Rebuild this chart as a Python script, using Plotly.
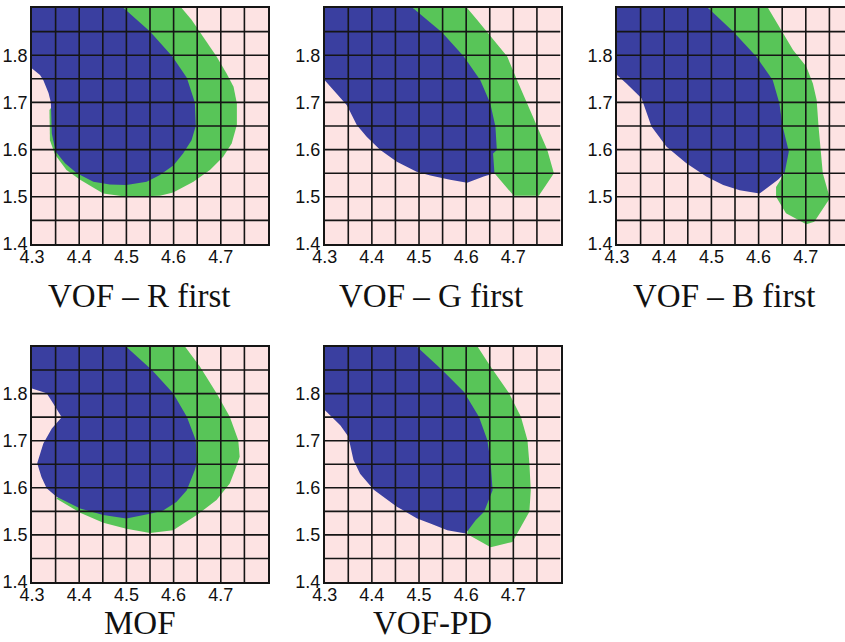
import numpy as np
import plotly.graph_objects as go

# ---------------- data ----------------
X_TICKS = [4.3, 4.4, 4.5, 4.6, 4.7]
Y_TICKS = [1.4, 1.5, 1.6, 1.7, 1.8]
X_GRID = [4.35, 4.4, 4.45, 4.5, 4.55, 4.6, 4.65, 4.7, 4.75]
Y_GRID = [1.45, 1.5, 1.55, 1.6, 1.65, 1.7, 1.75, 1.8, 1.85]

TITLES = ["VOF – R first", "VOF – G first", "VOF – B first", "MOF", "VOF-PD"]

# VOF - R first
R_BLUE_X = [4.3, 4.494, 4.55, 4.597, 4.628, 4.645, 4.647, 4.638, 4.62, 4.60, 4.571, 4.543, 4.50,
            4.465, 4.43, 4.395, 4.37, 4.35, 4.342, 4.34, 4.335, 4.324, 4.317, 4.3]
R_BLUE_Y = [1.9, 1.9, 1.85, 1.798, 1.752, 1.70, 1.65, 1.62, 1.592, 1.567, 1.546, 1.532, 1.525,
            1.526, 1.532, 1.55, 1.571, 1.596, 1.634, 1.70, 1.72, 1.747, 1.758, 1.772]
R_GREEN_X = [4.494, 4.617, 4.638, 4.663, 4.691, 4.712, 4.727, 4.734, 4.734, 4.723, 4.705, 4.677,
             4.642, 4.599, 4.571, 4.50, 4.451, 4.402, 4.373, 4.349, 4.338, 4.337]
R_GREEN_Y = [1.9, 1.9, 1.875, 1.839, 1.797, 1.762, 1.733, 1.698, 1.652, 1.613, 1.585, 1.557,
             1.532, 1.509, 1.502, 1.50, 1.507, 1.536, 1.557, 1.589, 1.62, 1.684]

# VOF - G first
G_BLUE_X = [4.3, 4.487, 4.549, 4.595, 4.63, 4.651, 4.662, 4.665, 4.657, 4.66, 4.637, 4.602, 4.566,
            4.524, 4.495, 4.453, 4.418, 4.389, 4.368, 4.347, 4.325, 4.3]
G_BLUE_Y = [1.9, 1.9, 1.848, 1.797, 1.747, 1.698, 1.649, 1.599, 1.592, 1.55, 1.543, 1.530, 1.536,
            1.545, 1.553, 1.574, 1.599, 1.627, 1.652, 1.694, 1.719, 1.747]
G_GREEN_X = [4.487, 4.602, 4.623, 4.658, 4.687, 4.708, 4.729, 4.75, 4.772, 4.786, 4.754, 4.701,
             4.66, 4.60]
G_GREEN_Y = [1.9, 1.9, 1.875, 1.832, 1.797, 1.747, 1.698, 1.649, 1.599, 1.55, 1.502, 1.502,
             1.55, 1.65]

# VOF - B first
B_BLUE_X = [4.3, 4.493, 4.546, 4.595, 4.63, 4.644, 4.651, 4.664, 4.655, 4.641, 4.602, 4.56, 4.525,
            4.489, 4.447, 4.405, 4.373, 4.352, 4.32, 4.3]
B_BLUE_Y = [1.9, 1.9, 1.85, 1.797, 1.747, 1.698, 1.649, 1.596, 1.55, 1.536, 1.507, 1.514, 1.525,
            1.543, 1.571, 1.606, 1.649, 1.709, 1.74, 1.758]
B_GREEN_X = [4.493, 4.62, 4.644, 4.673, 4.701, 4.715, 4.723, 4.727, 4.736, 4.751, 4.718, 4.701,
             4.658, 4.637, 4.637, 4.655, 4.60]
B_GREEN_Y = [1.9, 1.9, 1.86, 1.811, 1.776, 1.74, 1.705, 1.649, 1.55, 1.497, 1.447, 1.442,
             1.465, 1.5, 1.521, 1.55, 1.65]

# MOF
M_BLUE_X = [4.3, 4.499, 4.554, 4.599, 4.628, 4.647, 4.649, 4.645, 4.628, 4.606, 4.578, 4.55, 4.5,
            4.451, 4.402, 4.352, 4.331, 4.32, 4.311, 4.324, 4.342, 4.363, 4.345, 4.331, 4.3]
M_BLUE_Y = [1.9, 1.9, 1.85, 1.801, 1.751, 1.701, 1.652, 1.638, 1.595, 1.57, 1.552, 1.545, 1.535,
            1.542, 1.556, 1.581, 1.599, 1.623, 1.652, 1.694, 1.726, 1.75, 1.779, 1.801, 1.811]
M_GREEN_X = [4.499, 4.624, 4.656, 4.691, 4.719, 4.737, 4.74, 4.733, 4.719, 4.691, 4.649, 4.599,
             4.55, 4.5, 4.451, 4.402, 4.352, 4.45]
M_GREEN_Y = [1.9, 1.9, 1.857, 1.801, 1.751, 1.701, 1.666, 1.645, 1.609, 1.574, 1.542, 1.51,
             1.504, 1.513, 1.526, 1.547, 1.577, 1.7]

# VOF-PD
P_BLUE_X = [4.3, 4.495, 4.549, 4.595, 4.627, 4.645, 4.652, 4.656, 4.638, 4.62, 4.599, 4.56, 4.524,
            4.496, 4.453, 4.404, 4.375, 4.361, 4.35, 4.333, 4.3]
P_BLUE_Y = [1.9, 1.9, 1.85, 1.804, 1.751, 1.701, 1.652, 1.595, 1.549, 1.531, 1.503, 1.51, 1.524,
            1.535, 1.56, 1.596, 1.63, 1.659, 1.709, 1.733, 1.765]
P_GREEN_X = [4.495, 4.624, 4.652, 4.691, 4.716, 4.73, 4.734, 4.737, 4.734, 4.709, 4.698, 4.652,
             4.602, 4.62]
P_GREEN_Y = [1.9, 1.9, 1.857, 1.801, 1.751, 1.701, 1.652, 1.595, 1.549, 1.506, 1.485, 1.474,
             1.502, 1.6]

BLUE_X = [R_BLUE_X, G_BLUE_X, B_BLUE_X, M_BLUE_X, P_BLUE_X]
BLUE_Y = [R_BLUE_Y, G_BLUE_Y, B_BLUE_Y, M_BLUE_Y, P_BLUE_Y]
GREEN_X = [R_GREEN_X, G_GREEN_X, B_GREEN_X, M_GREEN_X, P_GREEN_X]
GREEN_Y = [R_GREEN_Y, G_GREEN_Y, B_GREEN_Y, M_GREEN_Y, P_GREEN_Y]

# ---------------- styling / layout ----------------
W, H = 845, 642
PINK = "#FDE3E3"
BLUE = "#3A3FA0"
GREEN = "#58C558"
GRIDC = "#151515"

# pixel boxes [x0, x1, ytop, ybottom]
BOXES = [
    (32, 268, 8, 244),
    (324.7, 560.5, 8, 244),
    (617, 845, 8, 244),
    (32, 268, 346.5, 582),
    (324.7, 560.5, 346.5, 582),
]
XMAX = [4.8, 4.8, 4.3 + 0.5 * (845 - 617) / 236, 4.8, 4.8]
TITLE_POS = [(138.5, 296), (431, 296), (724, 296), (139.5, 623), (432, 623)]

fig = go.Figure()
layout = dict(
    width=W, height=H,
    margin=dict(l=0, r=0, t=0, b=0, autoexpand=False),
    paper_bgcolor="white",
    plot_bgcolor=PINK,
    showlegend=False,
    annotations=[],
)

for i in range(5):
    n = "" if i == 0 else str(i + 1)
    xa, ya = "x" + n, "y" + n
    x0, x1, yt, yb = BOXES[i]
    # green then blue
    fig.add_trace(go.Scatter(x=GREEN_X[i], y=GREEN_Y[i], xaxis=xa, yaxis=ya, mode="lines",
                             fill="toself", fillcolor=GREEN, line=dict(width=0, color=GREEN),
                             hoverinfo="skip"))
    fig.add_trace(go.Scatter(x=BLUE_X[i], y=BLUE_Y[i], xaxis=xa, yaxis=ya, mode="lines",
                             fill="toself", fillcolor=BLUE, line=dict(width=0, color=BLUE),
                             hoverinfo="skip"))
    # grid lines drawn above the regions
    gx, gy = [], []
    for v in X_GRID:
        gx += [v, v, None]
        gy += [1.4, 1.9, None]
    for v in Y_GRID:
        gx += [4.3, 4.8, None]
        gy += [v, v, None]
    fig.add_trace(go.Scatter(x=gx, y=gy, xaxis=xa, yaxis=ya, mode="lines",
                             line=dict(width=1.6, color=GRIDC), hoverinfo="skip"))

    tickfont = dict(family="Liberation Sans, Arial, sans-serif", size=18, color="#111")
    layout["xaxis" + n] = dict(
        domain=[x0 / W, x1 / W], range=[4.3, XMAX[i]], anchor=ya, automargin=False,
        tickvals=X_TICKS, ticktext=[f"{v:.1f}" for v in X_TICKS], ticks="",
        showgrid=False, zeroline=False, showline=True, mirror=True,
        linecolor=GRIDC, linewidth=1.6, tickfont=tickfont, ticklabelstandoff=-4,
    )
    layout["yaxis" + n] = dict(
        domain=[1 - yb / H, 1 - yt / H], range=[1.4, 1.9], anchor=xa, automargin=False,
        tickvals=Y_TICKS, ticktext=[f"{v:.1f}" for v in Y_TICKS], ticks="",
        showgrid=False, zeroline=False, showline=True, mirror=(i != 2),
        linecolor=GRIDC, linewidth=1.6, tickfont=tickfont, ticklabelstandoff=-1,
    )
    tx, ty = TITLE_POS[i]
    layout["annotations"].append(dict(
        text=TITLES[i], xref="paper", yref="paper", x=tx / W, y=1 - ty / H,
        xanchor="center", yanchor="middle", showarrow=False,
        font=dict(family="Liberation Serif, Times New Roman, serif", size=33, color="#111"),
    ))

fig.update_layout(**layout)
fig.write_html("out.html")
